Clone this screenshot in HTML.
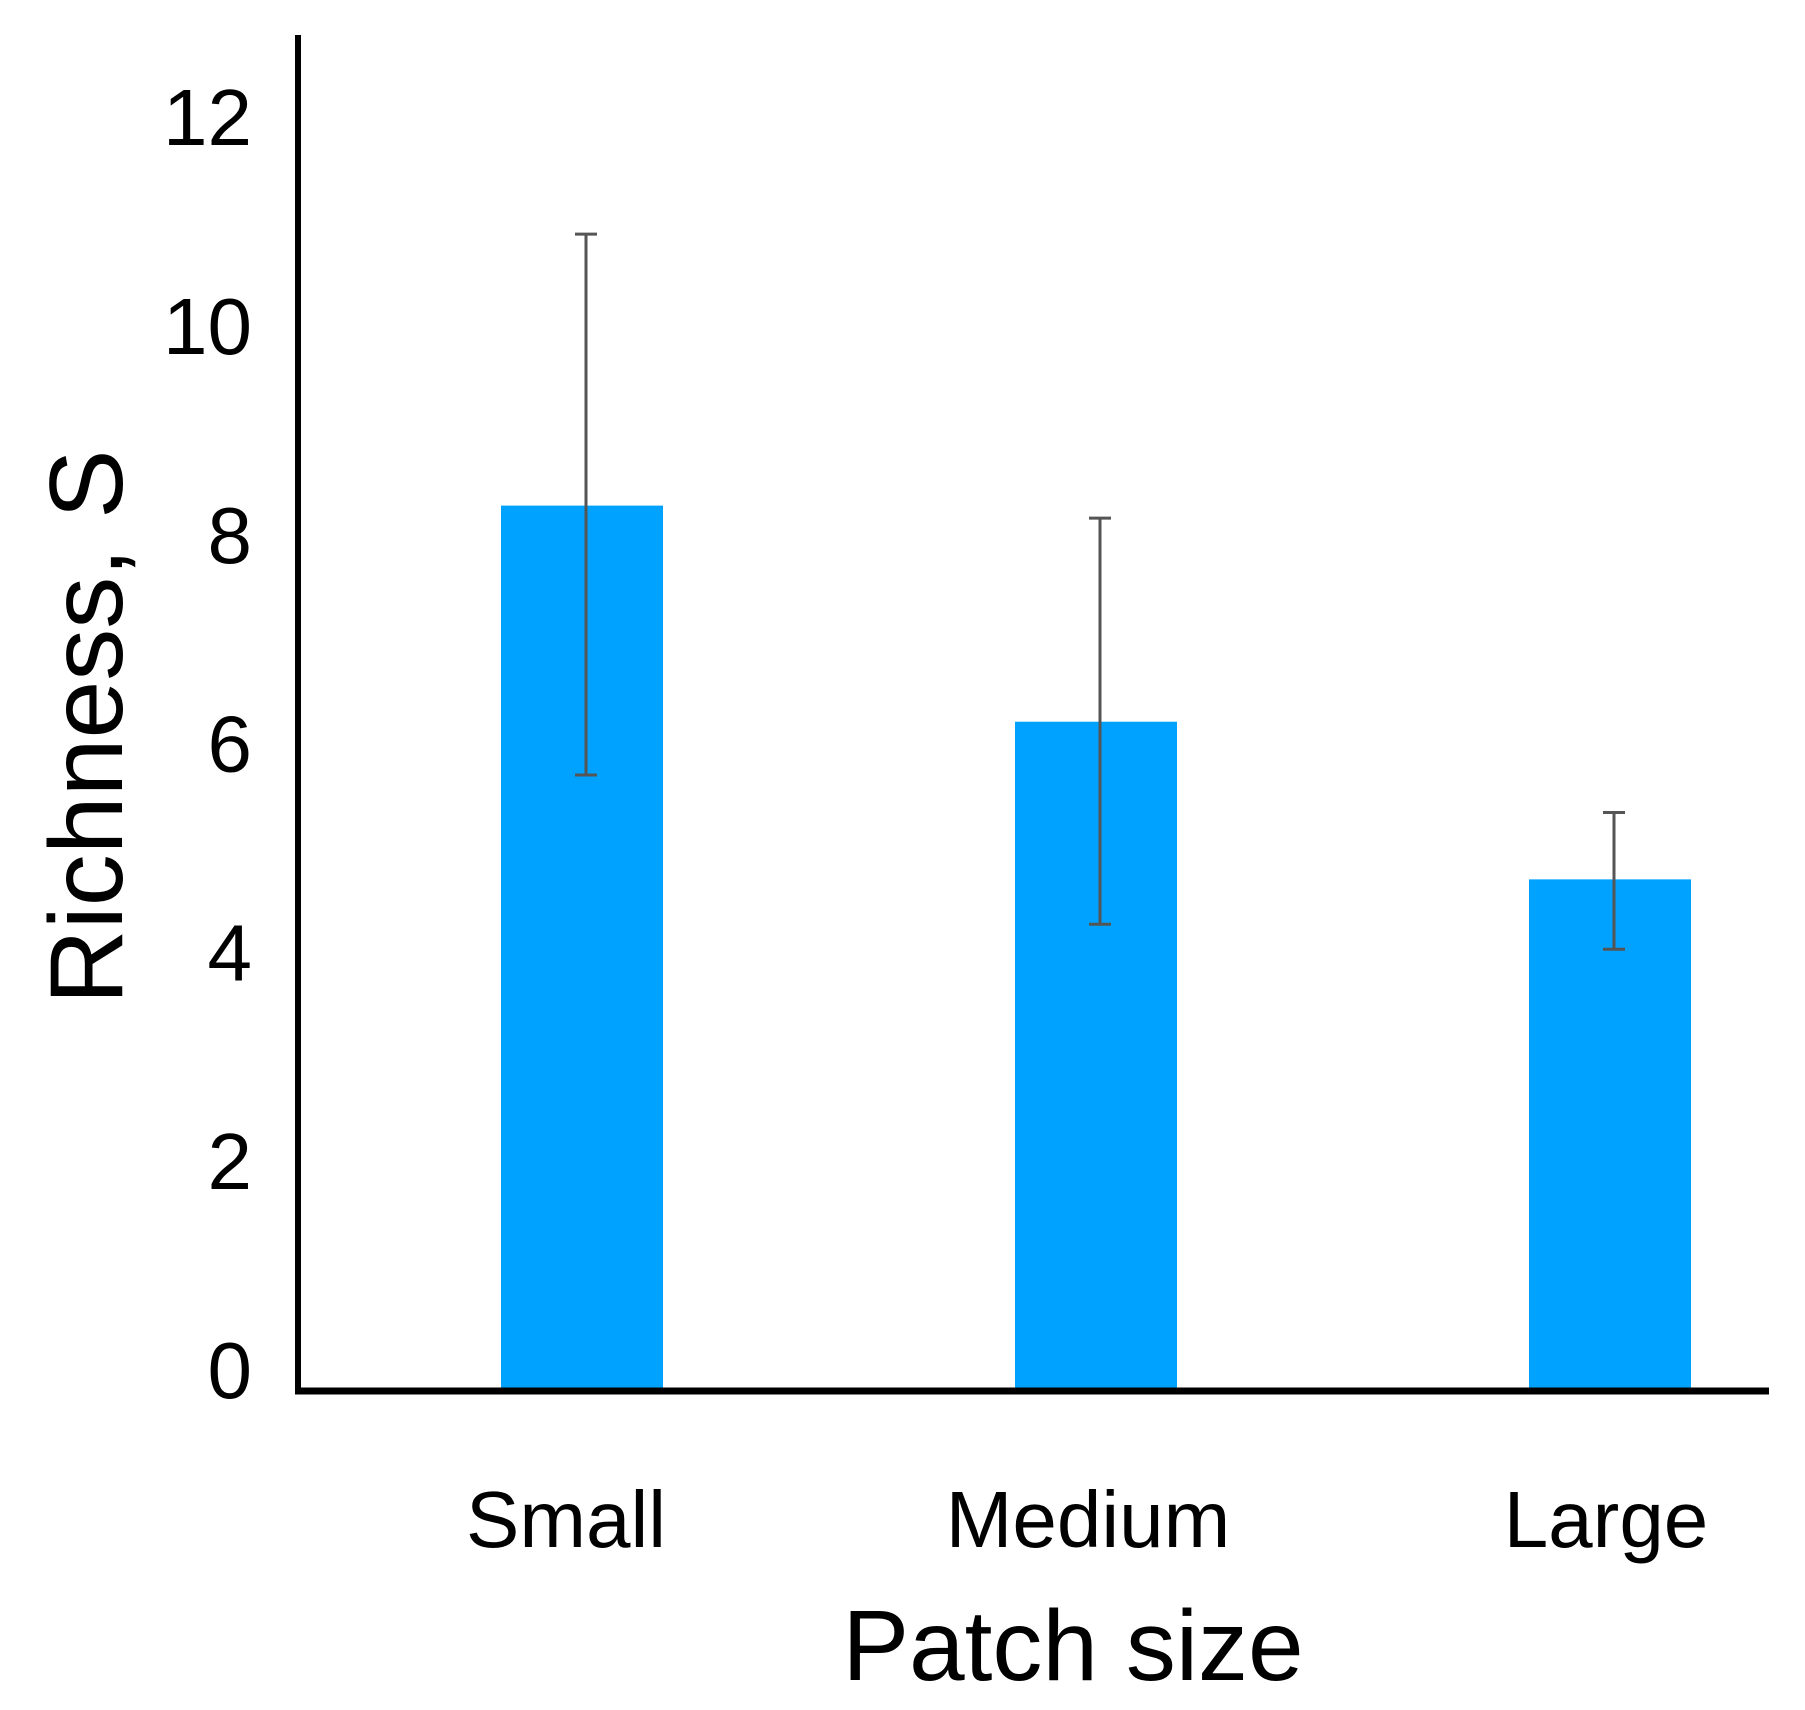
<!DOCTYPE html>
<html><head><meta charset="utf-8"><style>
html,body{margin:0;padding:0;background:#fff;}
svg{display:block;}
text{font-family:"Liberation Sans",sans-serif;fill:#000;}
</style></head><body>
<svg id="chart" width="1805" height="1710" viewBox="0 0 1805 1710" xmlns="http://www.w3.org/2000/svg">
<g id="bars"></g>
<g id="errs"></g>
<g id="yticks"></g>
<g id="xlabels"></g>
<line x1="298" y1="35" x2="298" y2="1394" stroke="#000" stroke-width="6"/>
<line x1="295" y1="1391" x2="1769" y2="1391" stroke="#000" stroke-width="7"/>
<text transform="translate(122,727) rotate(-90)" text-anchor="middle" font-size="104">Richness, S</text>
<text x="1073" y="1680" text-anchor="middle" font-size="100">Patch size</text>
</svg>
<script>
const categories = ["Small", "Medium", "Large"];
const means = [8.27, 6.2, 4.69];
const errLow = [5.69, 4.26, 4.02];
const errHigh = [10.87, 8.15, 5.33];
const yTicks = [0, 2, 4, 6, 8, 10, 12];

const NS = "http://www.w3.org/2000/svg";
const y0 = 1369, unit = 104.4;
function yScale(v){ return y0 - v*unit; }
const xStart = 582, xStep = 514;
function xScale(i){ return xStart + i*xStep; }
const barW = 162, axisY = 1388;
const labelOffsets = [-16, -8, -4];

function mk(tag, attrs, parent){
  const el = document.createElementNS(NS, tag);
  for (const k in attrs) el.setAttribute(k, attrs[k]);
  parent.appendChild(el);
  return el;
}
const gB = document.getElementById('bars');
const gE = document.getElementById('errs');
const gY = document.getElementById('yticks');
const gX = document.getElementById('xlabels');

categories.forEach((c, i) => {
  const cx = xScale(i);
  const top = yScale(means[i]);
  const r = mk('rect', {x: cx - barW/2, y: top, width: barW, height: axisY - top, fill: '#00A2FF'}, gB);
  
  
  const ex = cx + 4;
  const g = mk('g', {stroke: '#555', 'stroke-width': 3}, gE);
  
  
  mk('line', {x1: ex, x2: ex, y1: yScale(errHigh[i]), y2: yScale(errLow[i])}, g);
  mk('line', {x1: ex-11, x2: ex+11, y1: yScale(errHigh[i]), y2: yScale(errHigh[i])}, g);
  mk('line', {x1: ex-11, x2: ex+11, y1: yScale(errLow[i]), y2: yScale(errLow[i])}, g);
  const t = mk('text', {x: cx + labelOffsets[i], y: 1547, 'text-anchor': 'middle', 'font-size': 80}, gX);
  t.textContent = c;
  
  
});
yTicks.forEach(v => {
  const t = mk('text', {x: 252, y: yScale(v) + 29, 'text-anchor': 'end', 'font-size': 80}, gY);
  t.textContent = v;
  
  
});
</script>
</body></html>
